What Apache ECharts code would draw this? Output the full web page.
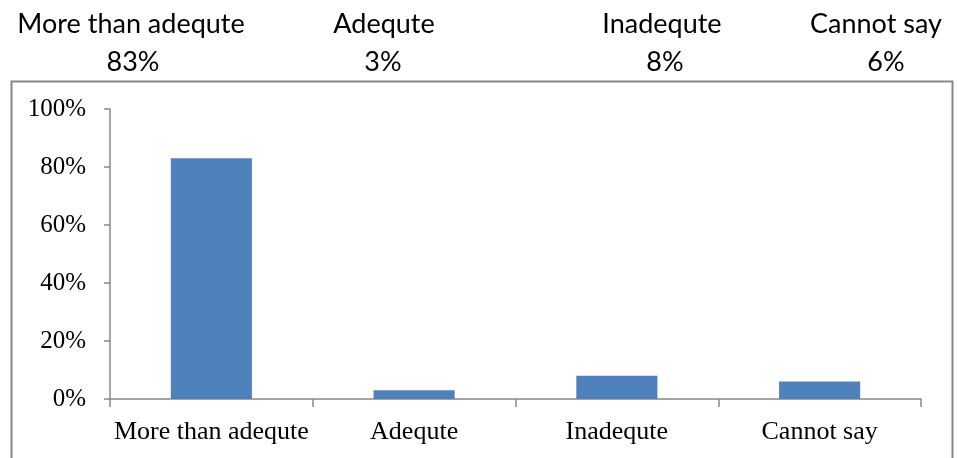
<!DOCTYPE html>
<html>
<head>
<meta charset="utf-8">
<script src="https://cdn.jsdelivr.net/npm/echarts@6/dist/echarts.min.js"></script>
<style>html,body{margin:0;padding:0;background:#fff}#c{width:957px;height:458px}</style>
</head>
<body>
<div id="c"></div>
<script>
const categories = ['More than adequte', 'Adequte', 'Inadequte', 'Cannot say'];
const values = [83, 3, 8, 6];
const yTicks = [0, 20, 40, 60, 80, 100];

const headerX = [131, 384, 662, 876];
const headerValX = [133, 383, 665, 886];
const headerFont = 'Lato, "Open Sans", sans-serif';

const graphics = [{
  type: 'rect', left: 9, top: 79, shape: {width: 941, height: 400},
  style: {fill: 'none', stroke: '#888', lineWidth: 2}, silent: true, z: -1
}];
categories.forEach((c, i) => {
  graphics.push({type: 'text', x: headerX[i], y: 24, style: {text: c, fontSize: 27, fontFamily: headerFont, fill: '#000', align: 'center', verticalAlign: 'middle'}});
  graphics.push({type: 'text', x: headerValX[i], y: 62, style: {text: values[i] + '%', fontSize: 27, fontFamily: headerFont, fill: '#000', align: 'center', verticalAlign: 'middle'}});
});

const chart = echarts.init(document.getElementById('c'), null, {renderer: 'canvas'});
chart.setOption({
  animation: false,
  grid: {left: 110, right: 36, top: 109, bottom: 59, containLabel: false},
  graphic: graphics,
  xAxis: {
    type: 'category', data: categories,
    axisLine: {lineStyle: {color: '#888', width: 1.5}},
    axisTick: {show: true, alignWithLabel: false, length: 8, lineStyle: {color: '#888', width: 1.5}},
    axisLabel: {interval: 0, color: '#000', fontFamily: '"Liberation Serif", "Times New Roman", serif', fontSize: 26, margin: 20}
  },
  yAxis: {
    type: 'value', min: yTicks[0], max: yTicks[yTicks.length - 1], interval: 20,
    splitLine: {show: false},
    axisLine: {show: true, lineStyle: {color: '#888', width: 1.5}},
    axisTick: {show: true, length: 6, lineStyle: {color: '#888', width: 1.5}},
    axisLabel: {color: '#000', fontFamily: '"Liberation Serif", "Times New Roman", serif', fontSize: 25, margin: 24, formatter: v => v + '%'}
  },
  series: [{
    type: 'bar', data: values, barWidth: '40%',
    itemStyle: {color: '#4F81BD'}
  }]
});
</script>
</body>
</html>
